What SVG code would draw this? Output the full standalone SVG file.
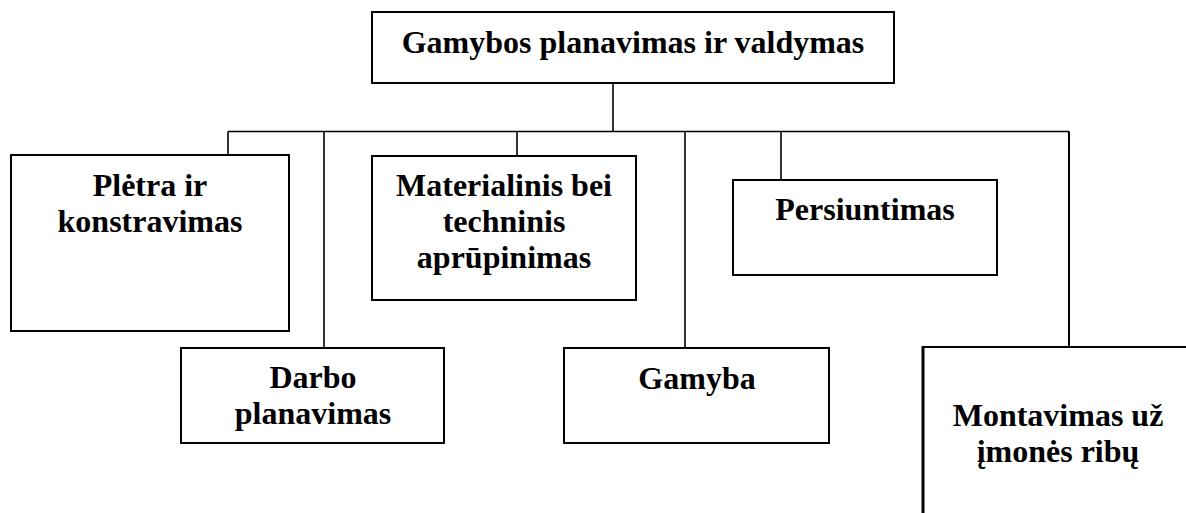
<svg xmlns="http://www.w3.org/2000/svg" width="1186" height="513" viewBox="0 0 1186 513">
<style>
.box{fill:#fff;stroke:#000;stroke-width:2}
.lbl{font-family:"Liberation Serif","Times New Roman",serif;font-weight:bold;font-size:32px;fill:#000;text-anchor:middle}
.con{fill:none;stroke:#000;stroke-width:1.6}
</style>
<rect width="1186" height="513" fill="#fff"/>
<g id="connectors">
<line class="con" x1="613" y1="83" x2="613" y2="131.5"/>
<line class="con" x1="228" y1="131.5" x2="1069" y2="131.5"/>
<line class="con" x1="228" y1="131.5" x2="228" y2="155"/>
<line class="con" x1="324" y1="131.5" x2="324" y2="348"/>
<line class="con" x1="517" y1="131.5" x2="517" y2="156"/>
<line class="con" x1="685" y1="131.5" x2="685" y2="348"/>
<line class="con" x1="781" y1="131.5" x2="781" y2="180"/>
<line class="con" x1="1069" y1="131.5" x2="1069" y2="347" style="stroke-width:2"/>
</g>
<g id="n-top">
<rect class="box" x="372" y="12" width="522" height="71"/>
<text class="lbl" x="633" y="53">Gamybos planavimas ir valdymas</text>
</g>
<g id="n-pletra">
<rect class="box" x="11" y="155" width="278" height="176"/>
<text class="lbl" x="150" y="196">Plėtra ir</text>
<text class="lbl" x="150" y="232">konstravimas</text>
</g>
<g id="n-materialinis">
<rect class="box" x="372" y="156" width="264" height="144"/>
<text class="lbl" x="504" y="196">Materialinis bei</text>
<text class="lbl" x="504" y="232">techninis</text>
<text class="lbl" x="504" y="268">aprūpinimas</text>
</g>
<g id="n-persiuntimas">
<rect class="box" x="733" y="180" width="264" height="95"/>
<text class="lbl" x="865" y="220">Persiuntimas</text>
</g>
<g id="n-darbo">
<rect class="box" x="181" y="348" width="263" height="95"/>
<text class="lbl" x="313" y="388">Darbo</text>
<text class="lbl" x="313" y="424">planavimas</text>
</g>
<g id="n-gamyba">
<rect class="box" x="564" y="348" width="265" height="95"/>
<text class="lbl" x="697" y="389">Gamyba</text>
</g>
<g id="n-montavimas">
<rect class="box" x="923" y="347" width="300" height="200"/>
<line x1="923" y1="346" x2="923" y2="513" stroke="#000" stroke-width="3"/>
<text class="lbl" x="1058" y="426">Montavimas už</text>
<text class="lbl" x="1058" y="462">įmonės ribų</text>
</g>
</svg>
